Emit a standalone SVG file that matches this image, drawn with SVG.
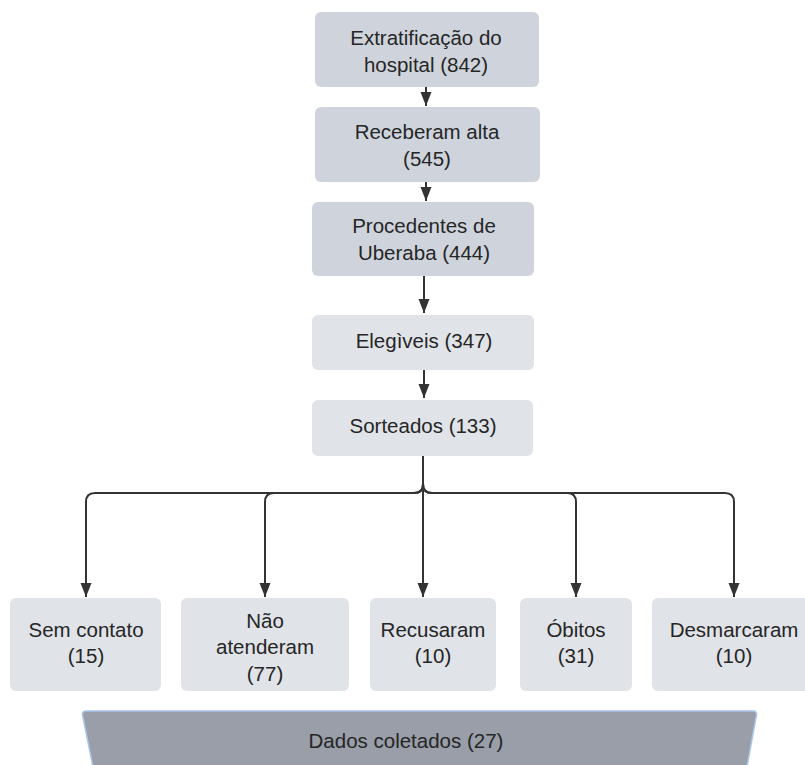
<svg xmlns="http://www.w3.org/2000/svg" width="805" height="765" viewBox="0 0 805 765">
<defs>
<style>
.dark{fill:#cfd4dc}
.light{fill:#e0e3e8}
.t{font-family:"Liberation Sans",Arial,sans-serif;font-size:20.5px;fill:#262626;text-anchor:middle}
.c{fill:none;stroke:#333;stroke-width:2}
</style>
<marker id="a" markerUnits="userSpaceOnUse" markerWidth="15" markerHeight="12" refX="14" refY="6" orient="auto" viewBox="0 0 15 12">
<path d="M0 0.5 L14 6 L0 11.5 Z" fill="#333"/>
</marker>
</defs>
<rect width="805" height="765" fill="#fff"/>
<g id="connectors">
<path class="c" d="M426 87 V106" marker-end="url(#a)"/>
<path class="c" d="M426 182 V201" marker-end="url(#a)"/>
<path class="c" d="M424 276 V313" marker-end="url(#a)"/>
<path class="c" d="M424 370 V398" marker-end="url(#a)"/>
<path class="c" d="M423 456 V597" marker-end="url(#a)"/>
<path class="c" d="M423 456 V484 Q423 493 414 493 H95 Q86 493 86 502 V597" marker-end="url(#a)"/>
<path class="c" d="M423 456 V484 Q423 493 414 493 H274 Q265 493 265 502 V597" marker-end="url(#a)"/>
<path class="c" d="M423 456 V484 Q423 493 432 493 H567 Q576 493 576 502 V597" marker-end="url(#a)"/>
<path class="c" d="M423 456 V484 Q423 493 432 493 H725 Q734 493 734 502 V597" marker-end="url(#a)"/>
</g>
<g id="n1"><rect class="dark" x="315" y="12" width="224" height="75" rx="6"/><text class="t" x="426" y="45">Extratificação do</text><text class="t" x="426" y="72">hospital (842)</text></g>
<g id="n2"><rect class="dark" x="315" y="107" width="225" height="75" rx="6"/><text class="t" x="427" y="139">Receberam alta</text><text class="t" x="427" y="166">(545)</text></g>
<g id="n3"><rect class="dark" x="312" y="202" width="222" height="74" rx="6"/><text class="t" x="424" y="233">Procedentes de</text><text class="t" x="424" y="260">Uberaba (444)</text></g>
<g id="n4"><rect class="light" x="312" y="315" width="222" height="55" rx="6"/><text class="t" x="424" y="348">Elegìveis (347)</text></g>
<g id="n5"><rect class="light" x="312" y="400" width="221" height="56" rx="6"/><text class="t" x="423" y="433">Sorteados (133)</text></g>
<g id="n6"><rect class="light" x="10" y="598" width="151" height="93" rx="6"/><text class="t" x="86" y="637">Sem contato</text><text class="t" x="86" y="663">(15)</text></g>
<g id="n7"><rect class="light" x="181" y="598" width="168" height="93" rx="6"/><text class="t" x="265" y="628">Não</text><text class="t" x="265" y="654">atenderam</text><text class="t" x="265" y="681">(77)</text></g>
<g id="n8"><rect class="light" x="370" y="598" width="126" height="93" rx="6"/><text class="t" x="433" y="637">Recusaram</text><text class="t" x="433" y="663">(10)</text></g>
<g id="n9"><rect class="light" x="520" y="598" width="112" height="93" rx="6"/><text class="t" x="576" y="637">Óbitos</text><text class="t" x="576" y="663">(31)</text></g>
<g id="n10"><rect class="light" x="652" y="598" width="164" height="93" rx="6"/><text class="t" x="734" y="637">Desmarcaram</text><text class="t" x="734" y="663">(10)</text></g>
<g id="n11"><path d="M86 711 H753 Q757 711 756.5 715 L746 772 H94 L82.5 715 Q82 711 86 711 Z" fill="#999ea8" stroke="#a9c5ec" stroke-width="1.5"/><text class="t" x="406" y="748">Dados coletados (27)</text></g>
</svg>
